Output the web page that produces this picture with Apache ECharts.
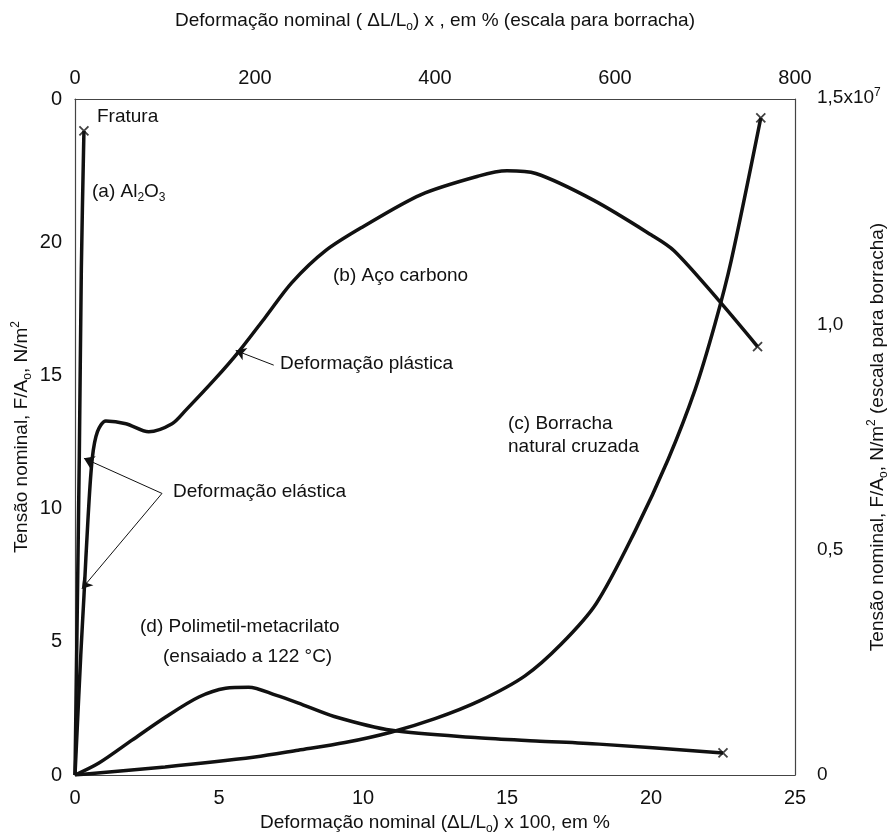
<!DOCTYPE html>
<html>
<head>
<meta charset="utf-8">
<script src="https://cdn.jsdelivr.net/npm/echarts@6/dist/echarts.min.js"></script>
<style>
  html, body { margin: 0; background: #fff; }
  #chart { width: 891px; height: 834px; }
</style>
</head>
<body>
<div id="chart"></div>
<script>
// strain in % (bottom axis) / stress in left axis units
const al2o3 = [[0, 0], [0.15, 12], [0.22, 19], [0.31, 24.2]];
const steel = [
  [0, 0], [0.2, 4.5], [0.31, 6.7], [0.45, 9.6], [0.6, 11.9], [0.78, 12.9], [1.07, 13.3],
  [1.77, 13.2], [2.56, 12.9], [3.37, 13.2], [3.84, 13.7], [4.88, 14.9], [5.68, 15.9],
  [6.61, 17.2], [7.53, 18.5], [8.7, 19.7], [10, 20.6], [12, 21.8], [14, 22.5], [15, 22.7],
  [16, 22.6], [18, 21.6], [20, 20.3], [20.8, 19.7], [22.3, 17.9], [23.7, 16.1]
];
const pmma = [
  [0, 0], [0.83, 0.45], [1.98, 1.31], [3.15, 2.18], [4.3, 2.93], [5.23, 3.26], [6.03, 3.3],
  [6.97, 3.0], [7.76, 2.7], [9, 2.2], [11, 1.68], [14, 1.4], [16, 1.28], [18.2, 1.16], [22.5, 0.83]
];
// rubber: strain on top axis (0-800 %), stress on right axis (x10^7 N/m2)
const rubber = [
  [0, 0], [100, 0.018], [200, 0.04], [248, 0.055], [300, 0.072], [351, 0.095], [400, 0.125],
  [450, 0.165], [500, 0.22], [540, 0.29], [579, 0.38], [622, 0.54], [659, 0.7], [689, 0.855],
  [711, 1.0], [729, 1.14], [762, 1.458]
];

const leftTicks = [0, 5, 10, 15, 20];
const leftTopLabel = '0';
const rightTicks = [0, 0.5, 1.0, 1.5];
const rightLabels = ['0', '0,5', '1,0', '{a|1,5x10}{s|7}'];

// arrows: [tail, tip] in bottom/left axis units
const arrows = [
  [[6.9, 15.4], [5.58, 15.95]],
  [[3.02, 10.58], [0.31, 11.9]],
  [[3.02, 10.58], [0.24, 7.0]]
];

const font = 'Liberation Sans, Arial, sans-serif';
const ink = '#111';
const lineStyle = { color: ink, width: 3.5 };
const frame = { show: true, onZero: false, lineStyle: { color: '#444', width: 1.2 } };
const cross = 'path://M0,0L10,10M10,0L0,10';

const txt = (x, y, text, rich) => ({
  type: 'text', left: x, top: y - 11,
  style: { text: text, font: '19px ' + font, fill: ink, rich: rich }
});
const subRich = {
  a: { fontSize: 19, fontFamily: font, color: ink, lineHeight: 24, verticalAlign: 'middle' },
  sub: { fontSize: 12, fontFamily: font, color: ink, lineHeight: 24, verticalAlign: 'bottom' }
};
const nameRich = {
  sub: { fontSize: 12, verticalAlign: 'bottom', lineHeight: 24, color: ink },
  sup: { fontSize: 12, verticalAlign: 'top', lineHeight: 24, color: ink }
};

const chart = echarts.init(document.getElementById('chart'));
chart.setOption({
  animation: false,
  textStyle: { fontFamily: font },
  grid: { left: 75, right: 96, top: 99, bottom: 59, containLabel: false, outerBoundsMode: 'none' },
  xAxis: [
    {
      type: 'value', min: 0, max: 25, interval: 5, position: 'bottom',
      name: 'Deformação nominal (ΔL/L{sub|o}) x 100, em %',
      nameLocation: 'middle', nameGap: 36,
      nameTextStyle: { fontSize: 19, color: ink, rich: nameRich },
      axisLine: frame, axisTick: { show: false }, splitLine: { show: false },
      axisLabel: { fontSize: 20, color: ink, margin: 13 }
    },
    {
      type: 'value', min: 0, max: 800, interval: 200, position: 'top',
      name: 'Deformação nominal ( ΔL/L{sub|o}) x , em % (escala para borracha)',
      nameLocation: 'middle', nameGap: 66,
      nameTextStyle: { fontSize: 19, color: ink, rich: nameRich },
      axisLine: frame, axisTick: { show: false }, splitLine: { show: false },
      axisLabel: { fontSize: 20, color: ink, margin: 11 }
    }
  ],
  yAxis: [
    {
      type: 'value', min: 0, max: 25.4, interval: 5, position: 'left',
      name: 'Tensão nominal, F/A{sub|o}, N/m{sup|2}',
      nameLocation: 'middle', nameGap: 41, nameMoveOverlap: false,
      nameTextStyle: { fontSize: 19, color: ink, rich: nameRich },
      axisLine: frame, axisTick: { show: false }, splitLine: { show: false },
      axisLabel: {
        fontSize: 20, color: ink, margin: 13, showMaxLabel: true,
        formatter: v => leftTicks.includes(v) ? String(v) : (v > leftTicks[leftTicks.length - 1] + 5 ? leftTopLabel : '')
      }
    },
    {
      type: 'value', min: 0, max: 1.5, interval: 0.5, position: 'right',
      name: 'Tensão nominal, F/A{sub|o}, N/m{sup|2} (escala para borracha)',
      nameLocation: 'middle', nameGap: 71, nameMoveOverlap: false,
      nameTextStyle: { fontSize: 19, color: ink, rich: nameRich },
      axisLine: frame, axisTick: { show: false }, splitLine: { show: false },
      axisLabel: {
        fontSize: 19, color: ink, margin: 22,
        formatter: v => rightLabels[rightTicks.indexOf(v)] || '',
        rich: {
          a: { fontSize: 19, color: ink, lineHeight: 24, verticalAlign: 'bottom', padding: [0, 0, 4, 0] },
          s: { fontSize: 12, color: ink, lineHeight: 24, verticalAlign: 'top', padding: [0, 0, 4, 0] }
        }
      }
    }
  ],
  series: [
    { type: 'line', data: al2o3, showSymbol: false, smooth: 0.3, lineStyle: lineStyle },
    {
      type: 'line', data: steel, showSymbol: false, smooth: 0.3, lineStyle: lineStyle,
      markLine: {
        silent: true, symbol: ['none', 'arrow'], symbolSize: 10,
        label: { show: false },
        lineStyle: { color: ink, width: 1, type: 'solid' },
        data: arrows.map(a => [{ coord: a[0] }, { coord: a[1] }])
      }
    },
    { type: 'line', data: pmma, showSymbol: false, smooth: 0.3, lineStyle: lineStyle },
    {
      type: 'line', data: rubber, xAxisIndex: 1, yAxisIndex: 1,
      showSymbol: false, smooth: 0.3, lineStyle: lineStyle
    },
    {
      type: 'scatter', symbol: cross, symbolSize: 9,
      data: [al2o3[al2o3.length - 1], steel[steel.length - 1], pmma[pmma.length - 1]],
      itemStyle: { color: 'none', borderColor: ink, borderWidth: 1.8 }
    },
    {
      type: 'scatter', symbol: cross, symbolSize: 9, xAxisIndex: 1, yAxisIndex: 1,
      data: [rubber[rubber.length - 1]],
      itemStyle: { color: 'none', borderColor: ink, borderWidth: 1.8 }
    }
  ],
  graphic: [
    txt(97, 118, 'Fratura'),
    txt(92, 193, '{a|(a) Al}{sub|2}{a|O}{sub|3}', subRich),
    txt(333, 277, '(b) Aço carbono'),
    txt(280, 365, 'Deformação plástica'),
    txt(173, 493, 'Deformação elástica'),
    txt(508, 425, '(c) Borracha'),
    txt(508, 448, 'natural cruzada'),
    txt(140, 628, '(d) Polimetil-metacrilato'),
    txt(163, 658, '(ensaiado a 122 °C)')
  ]
});
</script>
</body>
</html>
